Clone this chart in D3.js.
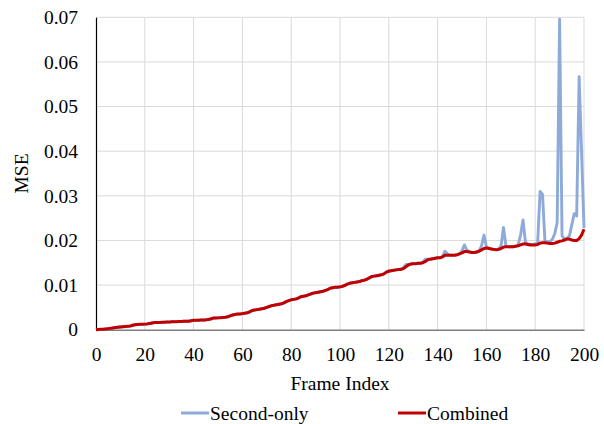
<!DOCTYPE html>
<html>
<head>
<meta charset="utf-8">
<script src="https://cdn.jsdelivr.net/npm/d3@7"></script>
<style>
  html, body { margin: 0; padding: 0; background: #fff; }
  svg text { font-family: "Liberation Serif", "Times New Roman", serif; fill: #000; }
</style>
</head>
<body>
<svg id="chart" width="604" height="424"></svg>
<script>
const frames = d3.range(0, 201);

const combined = [
  0, 0.00004, 0.00008, 0.00012, 0.00018, 0.00024, 0.0003, 0.0004, 0.0005, 0.00055,
  0.0006, 0.00065, 0.0007, 0.00075, 0.0008, 0.001, 0.0011, 0.00115, 0.0012, 0.0012,
  0.00125, 0.0013, 0.0014, 0.0015, 0.0016, 0.0016, 0.00162, 0.00165, 0.00168, 0.0017,
  0.0017, 0.0018, 0.0018, 0.0018, 0.00182, 0.00185, 0.00188, 0.0019, 0.0019, 0.002,
  0.0021, 0.0021, 0.00212, 0.00215, 0.00218, 0.0022, 0.0023, 0.0024, 0.0026, 0.0026,
  0.00265, 0.0027, 0.00275, 0.0028, 0.0029, 0.0031, 0.0033, 0.0034, 0.0035, 0.0035,
  0.0036, 0.0037, 0.0038, 0.004, 0.0043, 0.0044, 0.0045, 0.0046, 0.0047, 0.0048,
  0.005, 0.0052, 0.0054, 0.0055, 0.0056, 0.0057, 0.0058, 0.006, 0.0063, 0.0065,
  0.0067, 0.0068, 0.0069, 0.0071, 0.0074, 0.0075, 0.0076, 0.0078, 0.008, 0.0082,
  0.0083, 0.0084, 0.0085, 0.0086, 0.0088, 0.009, 0.0093, 0.0094, 0.0095, 0.0095,
  0.0096, 0.0097, 0.0099, 0.0102, 0.0104, 0.0105, 0.0106, 0.0107, 0.0108, 0.011,
  0.0111, 0.0113, 0.0116, 0.0119, 0.012, 0.0121, 0.0122, 0.0123, 0.0125, 0.0129,
  0.0131, 0.0132, 0.0133, 0.0134, 0.0135, 0.0135, 0.0137, 0.0141, 0.0145, 0.0147,
  0.0148, 0.0148, 0.0149, 0.0149, 0.015, 0.0153, 0.0157, 0.0158, 0.0159, 0.016,
  0.0161, 0.0161, 0.0163, 0.0167, 0.0167, 0.0167, 0.0167, 0.0167, 0.0168, 0.017,
  0.0172, 0.0175, 0.0175, 0.0174, 0.0173, 0.0173, 0.0174, 0.0176, 0.0179, 0.0182,
  0.0183, 0.0182, 0.0181, 0.018, 0.0179, 0.018, 0.0182, 0.0185, 0.0186, 0.0186,
  0.0186, 0.0186, 0.0187, 0.0188, 0.019, 0.0192, 0.0192, 0.0191, 0.019, 0.019,
  0.019, 0.0191, 0.0194, 0.0195, 0.0195, 0.0194, 0.0193, 0.0193, 0.0194, 0.0196,
  0.0198, 0.0199, 0.0201, 0.0203, 0.0203, 0.0201, 0.02, 0.02, 0.0204, 0.0212,
  0.0225
];

const secondOnly = [
  0, 0.00004, 0.00008, 0.00012, 0.00018, 0.00024, 0.0003, 0.0004, 0.0005, 0.00055,
  0.0006, 0.00065, 0.0007, 0.00075, 0.0008, 0.001, 0.0011, 0.00115, 0.0012, 0.0012,
  0.00125, 0.0013, 0.0014, 0.0015, 0.0016, 0.0016, 0.00162, 0.00165, 0.00168, 0.0017,
  0.0017, 0.0018, 0.0018, 0.0018, 0.00182, 0.00185, 0.00188, 0.0019, 0.0019, 0.002,
  0.0021, 0.0021, 0.00212, 0.00215, 0.00218, 0.0022, 0.0023, 0.0024, 0.0026, 0.0026,
  0.00265, 0.0027, 0.00275, 0.0028, 0.0029, 0.0031, 0.0033, 0.0034, 0.0035, 0.0035,
  0.0036, 0.0037, 0.0038, 0.004, 0.0043, 0.0044, 0.0045, 0.0046, 0.0047, 0.0048,
  0.005, 0.0052, 0.0054, 0.0055, 0.0056, 0.0057, 0.0058, 0.006, 0.0063, 0.0065,
  0.0067, 0.0068, 0.0069, 0.0071, 0.0074, 0.0075, 0.0076, 0.0078, 0.008, 0.0082,
  0.0083, 0.0084, 0.0085, 0.0086, 0.0088, 0.009, 0.0093, 0.0094, 0.0095, 0.0095,
  0.0096, 0.0098, 0.0100, 0.0102, 0.0104, 0.0105, 0.0106, 0.0107, 0.0108, 0.011,
  0.0111, 0.0113, 0.0116, 0.0119, 0.012, 0.0121, 0.0122, 0.0123, 0.0125, 0.0129,
  0.0132, 0.0132, 0.0133, 0.0134, 0.0135, 0.0136, 0.0139, 0.0146, 0.0146, 0.0147,
  0.0148, 0.0148, 0.0149, 0.0149, 0.0152, 0.0158, 0.0158, 0.0158, 0.0159, 0.016,
  0.0161, 0.0161, 0.0164, 0.0176, 0.0170, 0.0167, 0.0167, 0.0167, 0.0168, 0.017,
  0.0177, 0.0190, 0.0178, 0.0175, 0.0173, 0.0173, 0.0174, 0.0176, 0.0188, 0.0212,
  0.0186, 0.0183, 0.0181, 0.018, 0.0179, 0.0181, 0.0188, 0.0229, 0.0188, 0.0186,
  0.0186, 0.0186, 0.0187, 0.0190, 0.0212, 0.0246, 0.0196, 0.0192, 0.0191, 0.0191,
  0.0192, 0.0194, 0.0310, 0.0303, 0.0198, 0.0197, 0.0197, 0.0202, 0.0215, 0.0240,
  0.0696, 0.0210, 0.0203, 0.0205, 0.0210, 0.0235, 0.0260, 0.0255, 0.0567, 0.0400,
  0.0228
];

const xTicks = [0, 20, 40, 60, 80, 100, 120, 140, 160, 180, 200];
const yTicks = [0, 0.01, 0.02, 0.03, 0.04, 0.05, 0.06, 0.07];
const seriesNames = ["Second-only", "Combined"];
const seriesColors = ["#8eaadb", "#c00000"];

const svg = d3.select("#chart");
const m = { left: 96, right: 584, top: 17.3, bottom: 329.7 };
const FS = "19.5px";

const x = d3.scaleLinear().domain([0, 200]).range([m.left, m.right]);
const y = d3.scaleLinear().domain([0, 0.07]).range([m.bottom, m.top]);

// gridlines
const grid = svg.append("g");
grid.selectAll("line.h").data(yTicks.filter(d => d > 0)).join("line")
  .attr("x1", m.left).attr("x2", m.right)
  .attr("y1", d => y(d)).attr("y2", d => y(d))
  .attr("stroke", "#d9d9d9").attr("stroke-width", 1);
grid.selectAll("line.v").data(xTicks.filter(d => d > 0)).join("line")
  .attr("x1", d => x(d)).attr("x2", d => x(d))
  .attr("y1", m.top).attr("y2", m.bottom)
  .attr("stroke", "#d9d9d9").attr("stroke-width", 1);

// axes using d3 axis
const xAxis = svg.append("g").attr("transform", `translate(0,${m.bottom})`)
  .call(d3.axisBottom(x).tickValues(xTicks).tickSize(0).tickPadding(17).tickFormat(d3.format("d")));
xAxis.select(".domain").attr("stroke", "#7f7f7f").attr("stroke-width", 1.5);
xAxis.selectAll("text").style("font-size", FS).attr("fill", "#000");

const yAxis = svg.append("g").attr("transform", `translate(${m.left},0)`)
  .call(d3.axisLeft(y).tickValues(yTicks).tickSize(0).tickPadding(18)
    .tickFormat(d => d === 0 ? "0" : d3.format(".2f")(d)));
yAxis.select(".domain").attr("stroke", "#000").attr("stroke-width", 1.2);
yAxis.selectAll("text").style("font-size", FS).attr("fill", "#000");

// lines
const line = arr => d3.line().x((d, i) => x(frames[i])).y(d => y(d))(arr);
svg.append("path").attr("d", line(secondOnly)).attr("fill", "none")
  .attr("stroke", seriesColors[0]).attr("stroke-width", 2.9).attr("stroke-linejoin", "round");
svg.append("path").attr("d", line(combined)).attr("fill", "none")
  .attr("stroke", seriesColors[1]).attr("stroke-width", 3).attr("stroke-linejoin", "round");

// axis titles
svg.append("text").attr("x", (m.left + m.right) / 2).attr("y", 389.5)
  .attr("text-anchor", "middle").style("font-size", FS).text("Frame Index");
svg.append("text").attr("transform", `translate(28,${(m.top + m.bottom) / 2}) rotate(-90)`)
  .attr("text-anchor", "middle").style("font-size", FS).text("MSE");

// legend
const legendX = [181, 398];
const leg = svg.append("g");
seriesNames.forEach((name, i) => {
  leg.append("line").attr("x1", legendX[i]).attr("x2", legendX[i] + 28)
    .attr("y1", 413).attr("y2", 413)
    .attr("stroke", seriesColors[i]).attr("stroke-width", 3);
  leg.append("text").attr("x", legendX[i] + 29).attr("y", 420)
    .style("font-size", FS).text(name);
});
</script>
</body>
</html>
